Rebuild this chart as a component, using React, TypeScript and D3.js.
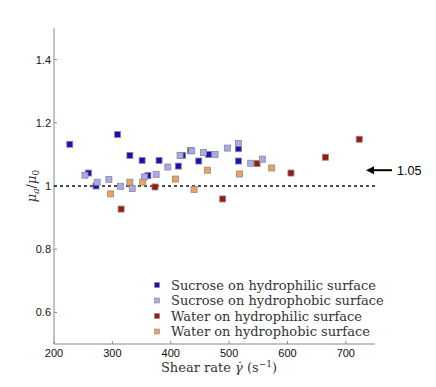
import React from "react";
import * as d3 from "d3";

const sucrosePhilic: [number, number][] = [
  [227, 1.132], [309, 1.163], [259, 1.041], [272, 1.0], [330, 1.097],
  [351, 1.081], [361, 1.033], [380, 1.081], [413, 1.063], [420, 1.097],
  [434, 1.112], [448, 1.079], [465, 1.1], [516, 1.118], [516, 1.079],
];
const sucrosePhobic: [number, number][] = [
  [253, 1.034], [274, 1.012], [294, 1.021], [314, 0.999], [334, 0.992],
  [355, 1.029], [375, 1.037], [395, 1.06], [416, 1.097], [436, 1.111],
  [456, 1.106], [476, 1.1], [497, 1.12], [516, 1.135], [537, 1.072],
  [557, 1.085],
];
const waterPhilic: [number, number][] = [
  [315, 0.927], [373, 0.997], [489, 0.959], [548, 1.071], [606, 1.041],
  [665, 1.091], [723, 1.148],
];
const waterPhobic: [number, number][] = [
  [297, 0.975], [330, 1.012], [352, 1.012], [408, 1.022], [440, 0.989],
  [463, 1.05], [518, 1.038], [573, 1.057],
];

const seriesNames = [
  "Sucrose on hydrophilic surface",
  "Sucrose on hydrophobic surface",
  "Water on hydrophilic surface",
  "Water on hydrophobic surface",
];
const seriesColors = ["#1a0fbf", "#a9a9ee", "#9e170a", "#f2a060"];
const seriesData = [sucrosePhilic, sucrosePhobic, waterPhilic, waterPhobic];

const xTicks = [200, 300, 400, 500, 600, 700];
const yTicks = [0.6, 0.8, 1, 1.2, 1.4];
const refValue = 1;
const annotValue = 1.05;

export default function App() {
  const width = 436;
  const height = 387;
  const x = d3.scaleLinear().domain([200, 750]).range([54, 375]);
  const y = d3.scaleLinear().domain([0.5, 1.5]).range([344, 28]);
  const fmt = (v: number) => (v === 1 ? "1" : d3.format(".1f")(v));
  const ms = 6;
  const order = [2, 3, 0, 1];

  return (
    <svg width={width} height={height} style={{ position: "absolute", left: 0, top: 0 }}>
      <rect width={width} height={height} fill="#fff" />
      {/* axes */}
      <line x1={x(200)} x2={x(750)} y1={y(0.5)} y2={y(0.5)} stroke="#888" strokeWidth={1} />
      <line x1={x(200)} x2={x(200)} y1={y(0.5)} y2={y(1.5)} stroke="#888" strokeWidth={1} />
      {xTicks.map((t) => (
        <g key={"x" + t}>
          <line x1={x(t)} x2={x(t)} y1={y(0.5)} y2={y(0.5) - 3} stroke="#888" />
          <text x={x(t)} y={357} textAnchor="middle" fontFamily="Liberation Sans, Arial, sans-serif" fontSize={11} fill="#111">
            {t}
          </text>
        </g>
      ))}
      {yTicks.map((t) => (
        <g key={"y" + t}>
          <line x1={x(200)} x2={x(200) + 3} y1={y(t)} y2={y(t)} stroke="#888" />
          <text x={x(200) - 3} y={y(t) + 4} textAnchor="end" fontFamily="Liberation Sans, Arial, sans-serif" fontSize={11} fill="#111">
            {fmt(t)}
          </text>
        </g>
      ))}
      {/* reference line */}
      <line x1={x(200)} x2={x(750)} y1={y(refValue)} y2={y(refValue)} stroke="#111" strokeWidth={1.6} strokeDasharray="3,3" />
      {/* points */}
      {order.map((si) =>
        seriesData[si].map(([vx, vy], i) => (
          <rect
            key={si + "-" + i}
            x={x(vx) - ms / 2}
            y={y(vy) - ms / 2}
            width={ms}
            height={ms}
            fill={seriesColors[si]}
            stroke="#8a8a8a"
            strokeWidth={0.8}
          />
        ))
      )}
      {/* annotation */}
      <line x1={372} x2={392} y1={y(annotValue)} y2={y(annotValue)} stroke="#000" strokeWidth={2} />
      <path d={`M366,${y(annotValue)} L374,${y(annotValue) - 4} L374,${y(annotValue) + 4} Z`} fill="#000" />
      <text x={397} y={y(annotValue) + 4.5} fontFamily="Liberation Sans, Arial, sans-serif" fontSize={12.5} fill="#000">
        {annotValue}
      </text>
      {/* axis titles */}
      <text x={219} y={372} textAnchor="middle" fontFamily="DejaVu Serif, serif" fontSize={13} fill="#333">
        Shear rate <tspan fontStyle="italic">γ̇</tspan> (s<tspan dy={-5} fontSize={9}>−1</tspan>
        <tspan dy={5}>)</tspan>
      </text>
      <text transform={`translate(36,${y(1)}) rotate(-90)`} textAnchor="middle" fontFamily="DejaVu Serif, serif" fontSize={13} fill="#333">
        <tspan fontStyle="italic">μ</tspan>
        <tspan fontStyle="italic" fontSize={9} dy={3}>a</tspan>
        <tspan dy={-3}>/</tspan>
        <tspan fontStyle="italic">μ</tspan>
        <tspan fontSize={9} dy={3}>0</tspan>
      </text>
      {/* legend */}
      {seriesNames.map((name, i) => (
        <g key={name} transform={`translate(157,${285 + i * 15.5})`}>
          <rect x={-2.5} y={-2.5} width={5} height={5} fill={seriesColors[i]} stroke="#8a8a8a" strokeWidth={0.6} />
          <text x={14} y={4.5} fontFamily="DejaVu Serif, serif" fontSize={13} fill="#333">
            {name}
          </text>
        </g>
      ))}
    </svg>
  );
}
